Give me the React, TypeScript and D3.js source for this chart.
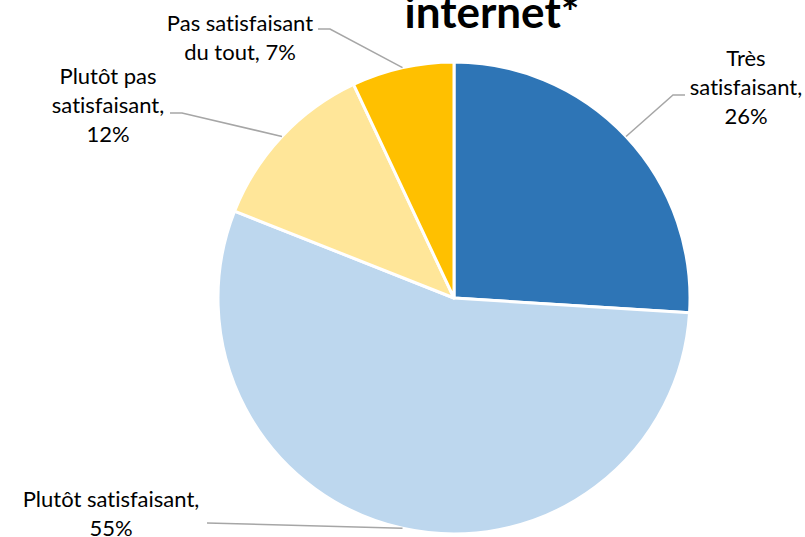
import React from "react";
import * as d3 from "d3";

const categories = ["Très satisfaisant", "Plutôt satisfaisant", "Plutôt pas satisfaisant", "Pas satisfaisant du tout"];
const values = [26, 55, 12, 7];
const labelLines = [
  ["Très", "satisfaisant,", "26%"],
  ["Plutôt satisfaisant,", "55%"],
  ["Plutôt pas", "satisfaisant,", "12%"],
  ["Pas satisfaisant", "du tout, 7%"],
];
const colors = ["#2E75B6", "#BDD7EE", "#FFE699", "#FFC000"];
const title = "internet*";

// layout: label centre x, first baseline y, elbow point, end point of leader
const labelLayout = [
  { x: 746, y: 66, elbow: [673, 95], end: [685, 95] },
  { x: 111, y: 507, elbow: [207, 523], end: [207, 523] },
  { x: 108, y: 84, elbow: [182, 113], end: [170, 113] },
  { x: 240, y: 31, elbow: [330, 29], end: [318, 29] },
];

export default function App() {
  const W = 805, H = 537;
  const cx = 454, cy = 298, R = 236;
  const pie = d3.pie<number>().sort(null).value((d) => d);
  const arcs = pie(values);
  const arc = d3.arc<d3.PieArcDatum<number>>().innerRadius(0).outerRadius(R);
  const edge = d3.arc<d3.PieArcDatum<number>>().innerRadius(R).outerRadius(R);
  const font = "Lato, 'Open Sans', sans-serif";
  return (
    <svg width={W} height={H} style={{ position: "absolute", left: 0, top: 0, background: "#fff", fontVariantLigatures: "none" }}>
      <text x={492} y={28} textAnchor="middle" fontFamily="Lato, sans-serif" fontWeight={700} fontSize={44} fill="#000">
        {title}
      </text>
      <g transform={`translate(${cx},${cy})`}>
        {arcs.map((a, i) => (
          <path key={categories[i]} d={arc(a) || ""} fill={colors[i]} stroke="#fff" strokeWidth={3} strokeLinejoin="round" />
        ))}
      </g>
      {arcs.map((a, i) => {
        const [px, py] = edge.centroid(a);
        const L = labelLayout[i];
        return (
          <polyline
            key={"l" + i}
            points={`${cx + px},${cy + py} ${L.elbow[0]},${L.elbow[1]} ${L.end[0]},${L.end[1]}`}
            fill="none"
            stroke="#A6A6A6"
            strokeWidth={1.5}
          />
        );
      })}
      {labelLines.map((lines, i) => (
        <text key={"t" + i} textAnchor="middle" fontFamily={font} fontSize={22} fill="#000" style={{ fontVariantLigatures: "none" }}>
          {lines.map((s, j) => (
            <tspan key={j} x={labelLayout[i].x} y={labelLayout[i].y + j * 29}>
              {s}
            </tspan>
          ))}
        </text>
      ))}
    </svg>
  );
}
